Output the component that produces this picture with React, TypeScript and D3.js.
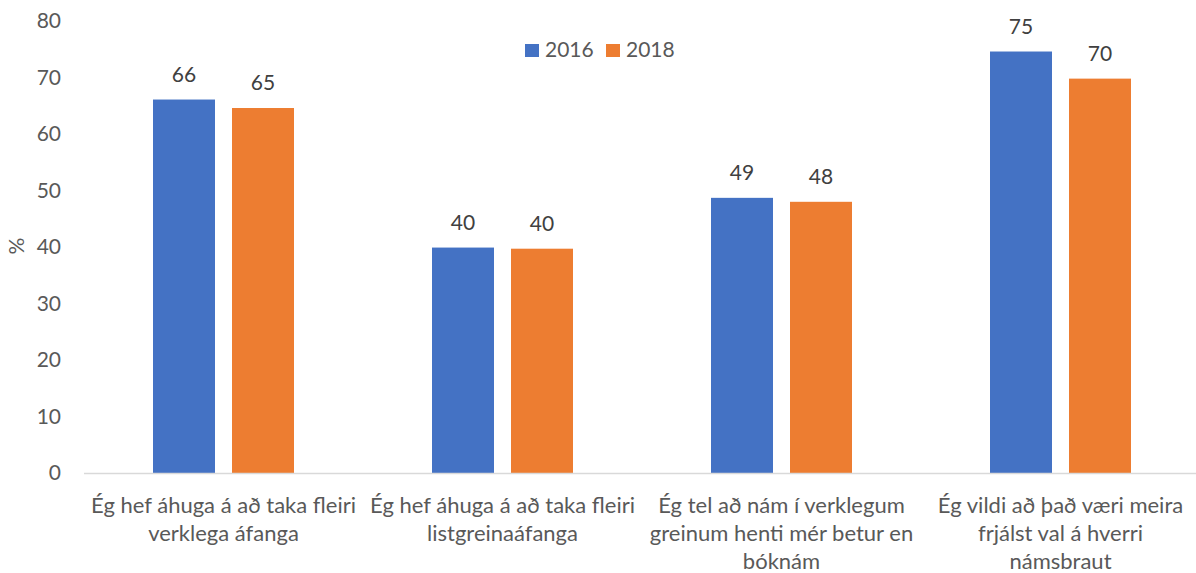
import React from "react";
import * as d3 from "d3";

const categories: string[][] = [
  ["Ég hef áhuga á að taka fleiri", "verklega áfanga"],
  ["Ég hef áhuga á að taka fleiri", "listgreinaáfanga"],
  ["Ég tel að nám í verklegum", "greinum henti mér betur en", "bóknám"],
  ["Ég vildi að það væri meira", "frjálst val á hverri", "námsbraut"],
];
const series = ["2016", "2018"];
const values2016 = [66.1, 39.9, 48.7, 74.6];
const values2018 = [64.6, 39.7, 48.0, 69.8];
const yTicks = [0, 10, 20, 30, 40, 50, 60, 70, 80];
const colors = ["#4472C4", "#ED7D31"];

const W = 1196;
const H = 573;
const left = 84;
const right = 1200;
const yTop = 21;
const yBottom = 473;
const FONT = "Lato, 'Open Sans', sans-serif";

export default function App() {
  const x = d3.scaleBand<number>().domain(d3.range(categories.length)).range([left, right]).paddingInner(0).paddingOuter(0);
  const y = d3.scaleLinear().domain([0, 80]).range([yBottom, yTop]);
  const barW = 62;
  const gap = 17;
  const data = [values2016, values2018];
  return (
    <svg width={W} height={H} style={{ position: "absolute", left: 0, top: 0, background: "#fff" }}>
      {yTicks.map((t) => (
        <text key={t} x={61} y={y(t)} dy="0.35em" textAnchor="end" fontSize={21} fill="#595959" fontFamily={FONT}>
          {t}
        </text>
      ))}
      <text transform={`translate(24,246) rotate(-90)`} textAnchor="middle" fontSize={21} fill="#595959" fontFamily={FONT}>
        %
      </text>
      {categories.map((_, i) => {
        const cx = (x(i) as number) + x.bandwidth() / 2;
        return data.map((vals, s) => {
          const bx = cx - gap / 2 - barW + s * (barW + gap);
          const v = vals[i];
          return (
            <g key={`${i}-${s}`}>
              <rect x={bx} y={y(v)} width={barW} height={yBottom - y(v)} fill={colors[s]} />
              <text x={bx + barW / 2} y={y(v) - 25} dy="0.35em" textAnchor="middle" fontSize={21} fill="#404040" fontFamily={FONT}>
                {Math.round(v)}
              </text>
            </g>
          );
        });
      })}
      <line x1={left} x2={W} y1={yBottom + 0.5} y2={yBottom + 0.5} stroke="#d9d9d9" strokeWidth={1.5} />
      {categories.map((lines, i) => {
        const cx = (x(i) as number) + x.bandwidth() / 2;
        return (
          <text key={i} textAnchor="middle" fontSize={22} fill="#595959" fontFamily={FONT}>
            {lines.map((l, j) => (
              <tspan key={j} x={cx} y={505 + j * 28} dy="0.35em">
                {l}
              </tspan>
            ))}
          </text>
        );
      })}
      {series.map((s, k) => {
        const lx = 525 + k * 81;
        return (
          <g key={s}>
            <rect x={lx} y={44} width={14} height={13} fill={colors[k]} />
            <text x={lx + 20} y={50} dy="0.35em" fontSize={21} fill="#595959" fontFamily={FONT}>
              {s}
            </text>
          </g>
        );
      })}
    </svg>
  );
}
